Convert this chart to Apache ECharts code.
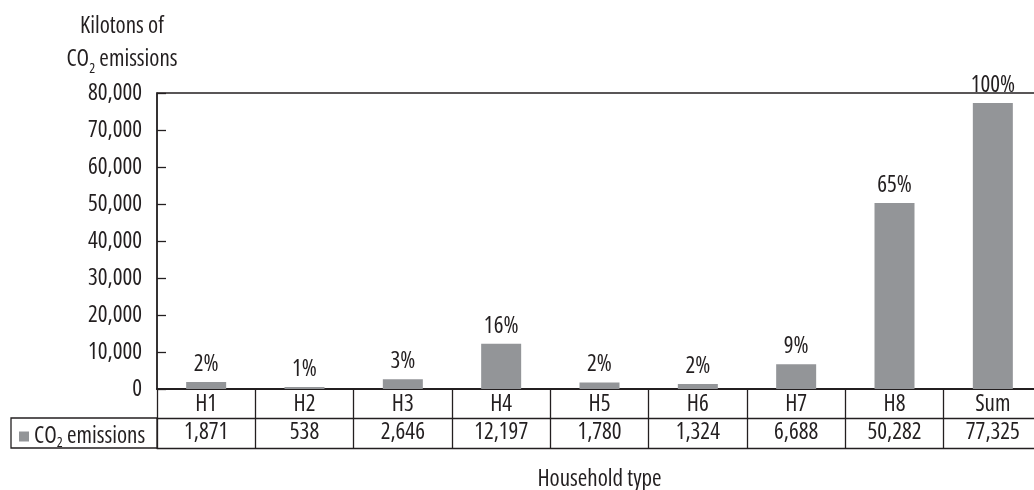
<!DOCTYPE html>
<html>
<head>
<meta charset="utf-8">
<script src="https://cdn.jsdelivr.net/npm/echarts@6/dist/echarts.min.js"></script>
<style>
  html, body { margin: 0; padding: 0; background: #fff; }
  #main { width: 1034px; height: 490px; }
</style>
</head>
<body>
<div id="main"></div>
<script>
// data
var categories = ['H1', 'H2', 'H3', 'H4', 'H5', 'H6', 'H7', 'H8', 'Sum'];
var emissions = [1871, 538, 2646, 12197, 1780, 1324, 6688, 50282, 77325];
var shares = ['2%', '1%', '3%', '16%', '2%', '2%', '9%', '65%', '100%'];

// condensed face: font-stretch rides in the fontStyle slot of the canvas font string
var FONT = "'Open Sans', sans-serif";
var STRETCH = 'condensed';
var INK = '#231f20';
var BAR = '#939598';

function txt(size) {
    return { fontFamily: FONT, fontStyle: STRETCH, fontSize: size, color: INK };
}

var chart = echarts.init(document.getElementById('main'));

chart.setOption({
    animation: false,
    textStyle: { fontFamily: FONT, color: INK },
    title: {
        text: 'Kilotons of\nCO{sub|2} emissions',
        left: 117,
        top: 5,
        textAlign: 'center',
        textStyle: Object.assign(txt(23), {
            fontWeight: 'normal',
            lineHeight: 33,
            rich: { sub: Object.assign(txt(14), { verticalAlign: 'bottom', lineHeight: 27 }) }
        })
    },
    legend: {
        left: 14,
        top: 420,
        icon: 'rect',
        itemWidth: 10,
        itemHeight: 10,
        data: ['CO2 emissions'],
        formatter: function () { return 'CO{sub|2} emissions'; },
        textStyle: Object.assign(txt(23), {
            rich: { sub: Object.assign(txt(14), { verticalAlign: 'bottom', lineHeight: 27 }) }
        })
    },
    // left cell of the data table
    graphic: [{
        type: 'rect',
        shape: { x: 11, y: 418, width: 146, height: 30 },
        style: { fill: 'none', stroke: INK, lineWidth: 1.3 },
        silent: true
    }],
    grid: {
        left: 157,
        top: 93,
        width: 885,
        height: 296,
        outerBoundsMode: 'none',
        show: true,
        borderColor: INK,
        borderWidth: 1.3
    },
    xAxis: [
        {
            type: 'category',
            data: categories,
            position: 'bottom',
            axisLine: { lineStyle: { color: INK, width: 2 } },
            axisTick: { show: true, interval: 0, inside: false, length: 59, lineStyle: { color: INK, width: 1.3 } },
            axisLabel: Object.assign(txt(23), { interval: 0, margin: 4 })
        },
        {
            type: 'category',
            data: categories,
            position: 'bottom',
            offset: 29,
            axisLine: { lineStyle: { color: INK, width: 1.3 } },
            axisTick: { show: false },
            axisLabel: Object.assign(txt(23), {
                interval: 0, margin: 3,
                formatter: function (v, i) { return emissions[i].toLocaleString('en-US'); }
            })
        },
        {
            type: 'category',
            data: categories,
            position: 'bottom',
            offset: 59,
            axisLine: { lineStyle: { color: INK, width: 1.3 } },
            axisTick: { show: false },
            axisLabel: { show: false },
            name: 'Household type',
            nameLocation: 'middle',
            nameGap: 20,
            nameTextStyle: txt(23)
        }
    ],
    yAxis: {
        type: 'value',
        min: 0,
        max: 80000,
        interval: 10000,
        axisLine: { show: true, lineStyle: { color: INK, width: 1.5 } },
        axisTick: { show: true, inside: true, length: 9, lineStyle: { color: INK, width: 1.3 } },
        splitLine: { show: false },
        axisLabel: Object.assign(txt(23), {
            margin: 15,
            formatter: function (v) { return v.toLocaleString('en-US'); }
        })
    },
    series: [{
        name: 'CO2 emissions',
        type: 'bar',
        data: emissions,
        barWidth: 40,
        itemStyle: { color: BAR },
        label: Object.assign(txt(23), {
            show: true,
            position: 'top',
            distance: 6,
            formatter: function (p) { return shares[p.dataIndex]; }
        })
    }]
});
</script>
</body>
</html>
